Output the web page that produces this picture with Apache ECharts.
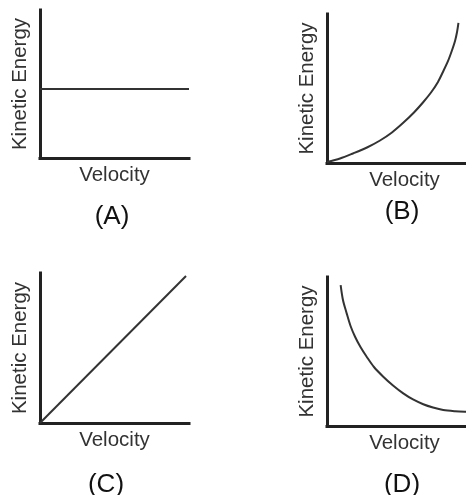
<!DOCTYPE html>
<html>
<head>
<meta charset="utf-8">
<script src="https://cdn.jsdelivr.net/npm/echarts@6/dist/echarts.min.js"></script>
<style>
    html, body { margin: 0; padding: 0; background: #fff; }
    #chart { width: 466px; height: 495px; }
</style>
</head>
<body>
<div id="chart"></div>
<script>
// four sketches of kinetic energy vs velocity, arbitrary units 0-100
const panelNames = ['(A)', '(B)', '(C)', '(D)'];
const xName = 'Velocity';
const yName = 'Kinetic Energy';

const velA = [0, 100];
const keA = [46.6, 46.6];

const velB = [0, 8.4, 16.8, 25.8, 34.2, 41.9, 49.0, 56.1, 61.9, 67.1, 71.6, 74.8, 78.1, 80.6, 82.6, 83.9, 84.8];
const keB = [0.7, 3.0, 6.4, 10.4, 15.1, 20.5, 26.8, 33.9, 40.6, 47.3, 54.4, 61.1, 68.5, 75.5, 81.9, 87.9, 94.0];

const velC = [0, 98];
const keC = [0, 98];

const velD = [8.8, 10.3, 12.7, 15.2, 18.1, 21.6, 25.6, 30.3, 36.3, 42.6, 49.2, 55.5, 62.1, 68.4, 75.0, 82.6, 89.0, 100];
const keD = [94.6, 84.6, 75.6, 67.1, 59.9, 53.0, 46.5, 39.6, 33.1, 27.2, 21.9, 17.8, 14.6, 12.4, 10.7, 9.9, 9.6, 9.4];

(() => {
    window.addEventListener('load', () => {
        let chart = echarts.init(document.querySelector('#chart'));

        const font = 'Liberation Sans, Arial, sans-serif';
        const grids = [
            { left: 40, top: 10, width: 149, height: 148 },
            { left: 327, top: 14, width: 155, height: 149 },
            { left: 40, top: 273, width: 149, height: 150 },
            { left: 327, top: 277, width: 155, height: 149 }
        ].map(g => Object.assign(g, { outerBoundsMode: 'none', containLabel: false }));
        const labelPos = [[112, 217], [402, 212], [106, 485], [402, 485]];
        const data = [
            [velA, keA], [velB, keB], [velC, keC], [velD, keD]
        ];

        const axisLine = { show: true, lineStyle: { color: '#222', width: 3, cap: 'square' } };
        const nameStyle = { fontSize: 20.5, color: '#333', fontFamily: font };

        let xAxis = [], yAxis = [], series = [], graphic = [];
        grids.forEach((g, i) => {
            xAxis.push({
                type: 'value', gridIndex: i, min: 0, max: 100,
                name: xName, nameLocation: 'middle', nameGap: 7,
                nameTextStyle: nameStyle,
                axisLine: axisLine, axisTick: { show: false },
                axisLabel: { show: false }, splitLine: { show: false }
            });
            yAxis.push({
                type: 'value', gridIndex: i, min: 0, max: 100,
                name: yName, nameLocation: 'middle', nameGap: 9,
                nameTextStyle: nameStyle,
                axisLine: axisLine, axisTick: { show: false },
                axisLabel: { show: false }, splitLine: { show: false }
            });
            let [xs, ys] = data[i];
            series.push({
                type: 'line', xAxisIndex: i, yAxisIndex: i,
                data: xs.map((x, k) => [x, ys[k]]),
                smooth: i === 1 || i === 3 ? 0.3 : false,
                symbol: 'none',
                lineStyle: { color: '#333', width: 2 }
            });
            graphic.push({
                type: 'text',
                x: labelPos[i][0], y: labelPos[i][1],
                style: {
                    text: panelNames[i], font: '26px ' + font,
                    fill: '#111', textAlign: 'center', textVerticalAlign: 'middle',
                    align: 'center', verticalAlign: 'middle'
                }
            });
        });

        chart.setOption({
            animation: false,
            grid: grids,
            xAxis: xAxis,
            yAxis: yAxis,
            series: series,
            graphic: graphic
        });
    });
})();
</script>
</body>
</html>
